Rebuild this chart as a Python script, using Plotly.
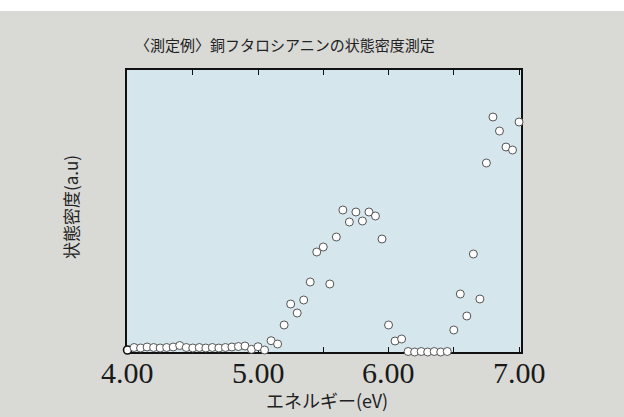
import plotly.graph_objects as go

# Energy (eV), 0.05 eV steps
energy = [round(4.00 + 0.05 * i, 2) for i in range(61)]
# Density of states (a.u.)
dos = [
    0.2, 0.45, 0.4, 0.5, 0.45, 0.4, 0.45, 0.5, 0.65, 0.45,   # 4.00-4.45
    0.4, 0.45, 0.4, 0.45, 0.4, 0.45, 0.5, 0.55, 0.6, 0.27,   # 4.50-4.95
    0.53, 0.2, 1.13, 0.8, 2.7, 4.8, 3.9, 5.2, 7.0, 10.0,     # 5.00-5.45
    10.5, 6.8, 11.5, 14.2, 13.0, 14.0, 13.1, 14.0, 13.6, 11.3,  # 5.50-5.95
    2.7, 1.1, 1.3, 0.05, 0.0, 0.05, 0.0, 0.05, 0.0, 0.05,   # 6.00-6.45
    2.2, 5.8, 3.6, 9.8, 5.3, 18.9, 23.5, 22.1, 20.5, 20.2,   # 6.50-6.95
    23.0,                                                    # 7.00
]
tick_vals = [4.0, 4.5, 5.0, 5.5, 6.0, 6.5, 7.0]
label_vals = [4.0, 5.0, 6.0, 7.0]
label_text = ["4.00", "5.00", "6.00", "7.00"]

title_text = "〈測定例〉銅フタロシアニンの状態密度測定"
x_title = "エネルギー(eV)"
y_title = "状態密度(a.u)"

line_cols = ["#111111"] + ["#555555"] * (len(energy) - 1)
line_w = [1.6] + [1.0] * (len(energy) - 1)

fig = go.Figure()
fig.add_trace(go.Scatter(
    x=energy, y=dos, mode="markers", cliponaxis=False,
    marker=dict(size=8, color="white", line=dict(color=line_cols, width=line_w)),
    showlegend=False, hoverinfo="skip",
))

annotations = [
    dict(text=title_text, xref="paper", yref="paper",
         x=(285 - 127) / 394, y=1 + 25 / 282, xanchor="center", yanchor="middle",
         showarrow=False, font=dict(size=15, color="#222222")),
    dict(text=x_title, xref="paper", yref="paper",
         x=(327 - 127) / 394, y=-48 / 282, xanchor="center", yanchor="middle",
         showarrow=False, font=dict(size=18, color="#222222")),
    dict(text=y_title, xref="paper", yref="paper",
         x=-57 / 394, y=(352 - 207) / 282, xanchor="center", yanchor="middle",
         textangle=-90, showarrow=False, font=dict(size=17, color="#222222")),
]
for v, t in zip(label_vals, label_text):
    annotations.append(dict(
        text=t, xref="x", yref="paper", x=v, y=-20 / 282,
        xanchor="center", yanchor="middle", showarrow=False,
        font=dict(family="Liberation Serif", size=30, color="#1a1a1a")))

fig.update_layout(
    width=624, height=417,
    margin=dict(l=127, r=103, t=70, b=65),
    paper_bgcolor="#d9d9d6",
    plot_bgcolor="#d5e6ec",
    font=dict(family="Noto Sans CJK JP", color="#222222"),
    shapes=[dict(type="rect", xref="paper", yref="paper",
                 x0=-1, x1=2, y0=1 + 59 / 282, y1=1.5,
                 fillcolor="white", line=dict(width=0), layer="below")],
    annotations=annotations,
)
fig.update_xaxes(
    range=[3.996, 7.015], tickvals=tick_vals, showticklabels=False,
    ticks="inside", ticklen=5, tickwidth=1.2, tickcolor="#111111",
    showline=True, linecolor="#111111", linewidth=1.5, mirror="ticks",
    showgrid=False, zeroline=False, layer="below traces",
)
fig.update_yaxes(
    range=[0, 28.2], showticklabels=False, ticks="",
    showline=True, linecolor="#111111", linewidth=1.5, mirror=True,
    showgrid=False, zeroline=False, layer="below traces",
)

fig.write_html("out.html", config={"displayModeBar": False},
               post_script="document.body.style.margin='0';")
